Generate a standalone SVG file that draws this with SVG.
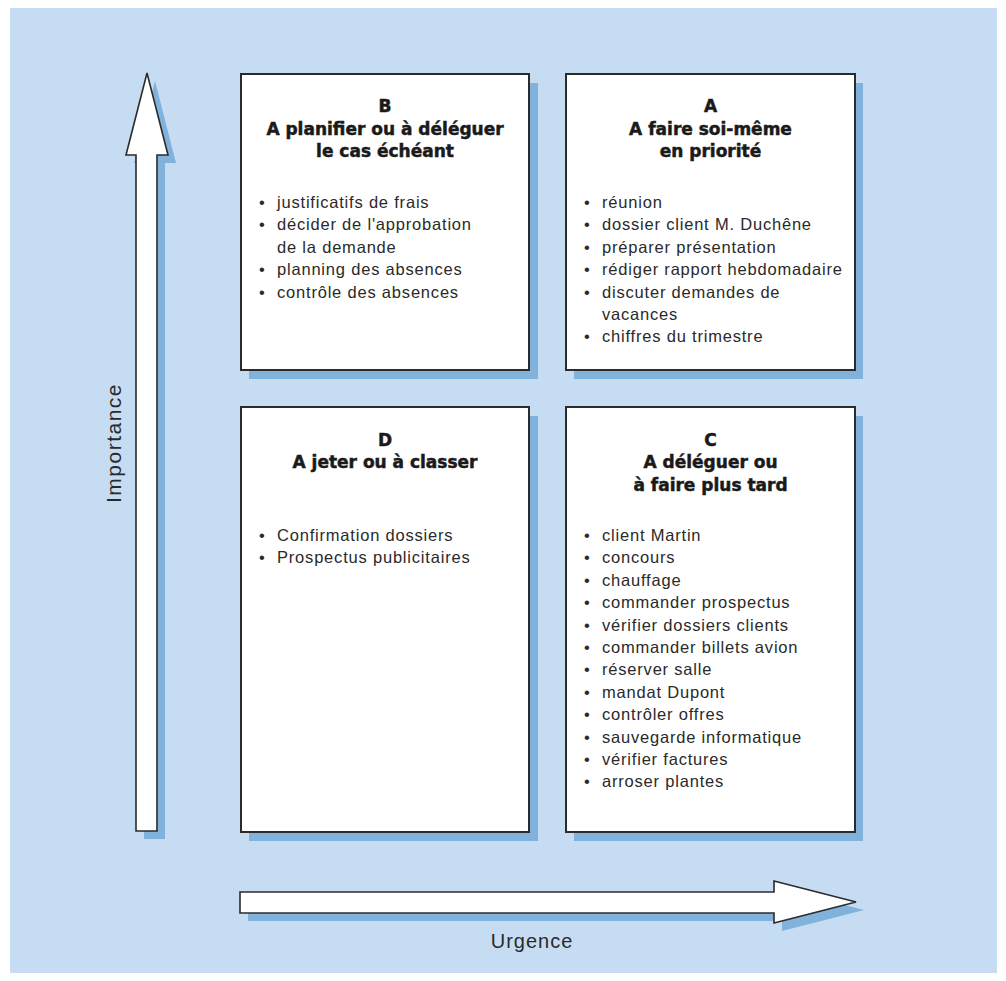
<svg xmlns="http://www.w3.org/2000/svg" width="1006" height="981" viewBox="0 0 1006 981">
  <style>
    .panel { fill: #c6dcf2; }
    .shadow { fill: #80b2db; }
    .box { fill: #ffffff; stroke: #2b2b2b; stroke-width: 2; }
    .arrow { fill: #ffffff; stroke: #2b2b2b; stroke-width: 1.6; stroke-linejoin: miter; }
    .title { font-family: "DejaVu Sans", "Liberation Sans", sans-serif; font-weight: bold; font-size: 17px; fill: #1a1a1a; stroke: #1a1a1a; stroke-width: 0.5; text-anchor: middle; }
    .item { font-family: "Liberation Sans", Arial, sans-serif; font-size: 16.5px; letter-spacing: 0.8px; fill: #2a2a2a; }
    .axis { font-family: "Liberation Sans", Arial, sans-serif; font-size: 20px; letter-spacing: 1px; fill: #2a2a2a; }
  </style>
  <defs>
    <!-- axis arrow outlines -->
    <polygon id="vArrow" points="147,73 168,155 157,155 157,831 136,831 136,155 126,155"/>
    <polygon id="hArrow" points="240,892 774,892 774,881 856,902 774,923 774,913 240,913"/>
  </defs>

  <!-- background panel -->
  <rect class="panel" x="10" y="8" width="987" height="965"/>

  <!-- axes -->
  <g id="axes">
    <use href="#vArrow" class="shadow" transform="translate(8,8)"/>
    <use href="#vArrow" class="arrow"/>
    <use href="#hArrow" class="shadow" transform="translate(8,8)"/>
    <use href="#hArrow" class="arrow"/>
    <text class="axis" transform="translate(121,443) rotate(-90)" text-anchor="middle" style="font-size:21px;letter-spacing:1.5px">Importance</text>
    <text class="axis" x="532" y="948" text-anchor="middle">Urgence</text>
  </g>

  <!-- quadrant B: important, not urgent -->
  <g id="node-B">
    <rect class="shadow" x="249" y="83" width="289" height="296"/>
    <rect class="box" x="241" y="74" width="288" height="296"/>
    <text class="title" x="385" y="112">B</text>
    <text class="title" x="385" y="134.5">A planifier ou à déléguer</text>
    <text class="title" x="385" y="157">le cas échéant</text>
    <g class="item">
      <text x="259" y="208">•</text><text x="277" y="208">justificatifs de frais</text>
      <text x="259" y="230.4">•</text><text x="277" y="230.4">décider de l'approbation</text>
      <text x="277" y="252.8">de la demande</text>
      <text x="259" y="275.2">•</text><text x="277" y="275.2">planning des absences</text>
      <text x="259" y="297.6">•</text><text x="277" y="297.6">contrôle des absences</text>
    </g>
  </g>

  <!-- quadrant A: important and urgent -->
  <g id="node-A">
    <rect class="shadow" x="574" y="83" width="289" height="296"/>
    <rect class="box" x="566" y="74" width="289" height="296"/>
    <text class="title" x="710.5" y="112">A</text>
    <text class="title" x="710.5" y="134.5">A faire soi-même</text>
    <text class="title" x="710.5" y="157">en priorité</text>
    <g class="item">
      <text x="584" y="208">•</text><text x="602" y="208">réunion</text>
      <text x="584" y="230.4">•</text><text x="602" y="230.4">dossier client M. Duchêne</text>
      <text x="584" y="252.8">•</text><text x="602" y="252.8">préparer présentation</text>
      <text x="584" y="275.2">•</text><text x="602" y="275.2">rédiger rapport hebdomadaire</text>
      <text x="584" y="297.6">•</text><text x="602" y="297.6">discuter demandes de</text>
      <text x="602" y="320">vacances</text>
      <text x="584" y="342.4">•</text><text x="602" y="342.4">chiffres du trimestre</text>
    </g>
  </g>

  <!-- quadrant D: neither important nor urgent -->
  <g id="node-D">
    <rect class="shadow" x="249" y="416" width="289" height="425"/>
    <rect class="box" x="241" y="407" width="288" height="425"/>
    <text class="title" x="385" y="445.5">D</text>
    <text class="title" x="385" y="468">A jeter ou à classer</text>
    <g class="item">
      <text x="259" y="541">•</text><text x="277" y="541">Confirmation dossiers</text>
      <text x="259" y="563.4">•</text><text x="277" y="563.4">Prospectus publicitaires</text>
    </g>
  </g>

  <!-- quadrant C: urgent, less important -->
  <g id="node-C">
    <rect class="shadow" x="574" y="416" width="289" height="425"/>
    <rect class="box" x="566" y="407" width="289" height="425"/>
    <text class="title" x="710.5" y="445.5">C</text>
    <text class="title" x="710.5" y="468">A déléguer ou</text>
    <text class="title" x="710.5" y="490.5">à faire plus tard</text>
    <g class="item">
      <text x="584" y="541">•</text><text x="602" y="541">client Martin</text>
      <text x="584" y="563.4">•</text><text x="602" y="563.4">concours</text>
      <text x="584" y="585.8">•</text><text x="602" y="585.8">chauffage</text>
      <text x="584" y="608.2">•</text><text x="602" y="608.2">commander prospectus</text>
      <text x="584" y="630.6">•</text><text x="602" y="630.6">vérifier dossiers clients</text>
      <text x="584" y="653">•</text><text x="602" y="653">commander billets avion</text>
      <text x="584" y="675.4">•</text><text x="602" y="675.4">réserver salle</text>
      <text x="584" y="697.8">•</text><text x="602" y="697.8">mandat Dupont</text>
      <text x="584" y="720.2">•</text><text x="602" y="720.2">contrôler offres</text>
      <text x="584" y="742.6">•</text><text x="602" y="742.6">sauvegarde informatique</text>
      <text x="584" y="765">•</text><text x="602" y="765">vérifier factures</text>
      <text x="584" y="787.4">•</text><text x="602" y="787.4">arroser plantes</text>
    </g>
  </g>
</svg>
